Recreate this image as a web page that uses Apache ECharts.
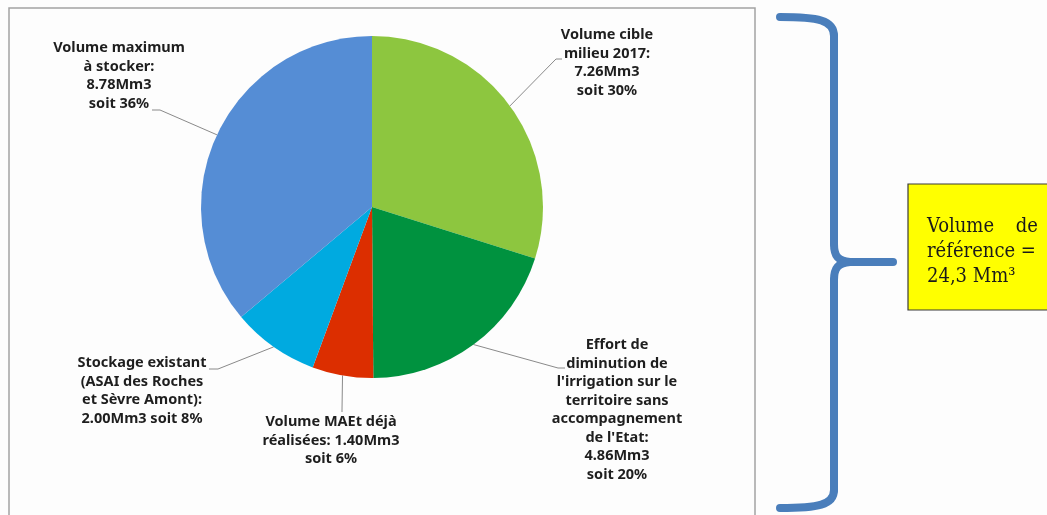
<!DOCTYPE html>
<html>
<head>
<meta charset="utf-8">
<script src="https://cdn.jsdelivr.net/npm/echarts@6/dist/echarts.min.js"></script>
<style>
  html, body { margin: 0; padding: 0; background: #fdfdfd; }
  #chart { width: 1047px; height: 515px; }
</style>
</head>
<body>
<div id="chart"></div>
<script>
// Volumes (Mm3), clockwise from 12 o'clock
const sliceNames = [
  'Volume cible milieu 2017',
  "Effort de diminution de l'irrigation",
  'Volume MAEt déjà réalisées',
  'Stockage existant',
  'Volume maximum à stocker'
];
const volumes = [7.26, 4.86, 1.40, 2.00, 8.78];
const sliceColors = ['#8dc63f', '#00923f', '#dc2e00', '#00aae0', '#558dd5'];

// Label texts; {v} = volume, {p} = share of the total
const labelTemplates = [
  'Volume cible\nmilieu 2017:\n{v}Mm3\nsoit {p}%',
  "Effort de\ndiminution de\nl'irrigation sur le\nterritoire sans\naccompagnement\nde l'Etat:\n{v}Mm3\nsoit {p}%",
  'Volume MAEt déjà\nréalisées: {v}Mm3\nsoit {p}%',
  'Stockage existant\n(ASAI des Roches\net Sèvre Amont):\n{v}Mm3 soit {p}%',
  'Volume maximum\nà stocker:\n{v}Mm3\nsoit {p}%'
];

// Reference box text
const refLines = ['Volume', 'de', 'référence =', '24,3 Mm³'];

// Label block placement (top centre) and where each leader line meets its text
const labelPlacement = [
  { x: 607, y: 26,  elbow: [556, 59],  end: [562, 59] },
  { x: 617, y: 336, elbow: [558, 368], end: [565, 368] },
  { x: 331, y: 413, elbow: [342, 410], end: [342, 412] },
  { x: 142, y: 354, elbow: [218, 369], end: [209, 369] },
  { x: 119, y: 39,  elbow: [160, 110], end: [152, 110] }
];

const total = volumes.reduce((a, b) => a + b, 0);

const chart = echarts.init(document.getElementById('chart'), null, { renderer: 'canvas' });

const braceStyle = { fill: null, stroke: '#4a7ebb', lineWidth: 8, lineCap: 'round', lineJoin: 'round' };
const braceCurve = (x1, y1, c1x, c1y, c2x, c2y, x2, y2) => ({
  type: 'bezierCurve', z: 5,
  shape: { x1, y1, cpx1: c1x, cpy1: c1y, cpx2: c2x, cpy2: c2y, x2, y2 },
  style: braceStyle
});
const braceLine = (x1, y1, x2, y2) => ({
  type: 'line', z: 5, shape: { x1, y1, x2, y2 }, style: braceStyle
});
const refText = (text, x, y, align) => ({
  type: 'text', z: 6, x, y,
  style: {
    text, fill: '#1a1a1a', verticalAlign: 'middle', align,
    font: '20px "DejaVu Serif Condensed", "Liberation Serif", serif'
  }
});

const option = {
  backgroundColor: '#fdfdfd',
  animation: false,
  graphic: [
    // frame around the pie
    {
      type: 'rect', z: 0,
      shape: { x: 9, y: 8, width: 746, height: 530 },
      style: { fill: '#fdfdfd', stroke: '#a3a3a3', lineWidth: 1.5 }
    },
    // curly brace
    braceCurve(780, 17, 818, 17, 834, 20, 834, 36),
    braceLine(834, 36, 834, 244),
    braceCurve(834, 244, 834, 256, 838, 261, 850, 262),
    braceLine(850, 262, 893, 262),
    braceCurve(850, 262, 838, 263, 834, 268, 834, 280),
    braceLine(834, 280, 834, 490),
    braceCurve(834, 490, 834, 505, 818, 508, 780, 508),
    // reference volume box
    {
      type: 'rect', z: 5,
      shape: { x: 908, y: 184, width: 160, height: 126 },
      style: { fill: '#ffff00', stroke: '#3a3a3a', lineWidth: 1.2 }
    },
    refText(refLines[0], 927, 227, 'left'),
    refText(refLines[1], 1038, 227, 'right'),
    refText(refLines[2], 927, 252, 'left'),
    refText(refLines[3], 927, 277, 'left')
  ],
  series: [
    {
      type: 'pie',
      center: [372, 207],
      radius: 171,
      startAngle: 90,
      clockwise: true,
      avoidLabelOverlap: false,
      z: 3,
      data: volumes.map((v, i) => ({
        name: sliceNames[i],
        value: v,
        itemStyle: { color: sliceColors[i] }
      })),
      label: {
        show: true,
        position: 'outside',
        fontFamily: 'Noto Sans',
        fontWeight: 'bold',
        fontSize: 14.5,
        lineHeight: 18.5,
        color: '#1e1e1e',
        align: 'center',
        formatter: (p) => labelTemplates[p.dataIndex]
          .replace('{v}', p.value.toFixed(2))
          .replace('{p}', Math.round(p.value / total * 100))
      },
      labelLine: {
        show: true,
        length: 20,
        length2: 8,
        lineStyle: { color: '#8a8a8a', width: 1 }
      },
      labelLayout: (params) => {
        const pl = labelPlacement[params.dataIndex];
        const start = params.labelLinePoints ? params.labelLinePoints[0] : pl.elbow;
        return {
          x: pl.x,
          y: pl.y,
          align: 'center',
          verticalAlign: 'top',
          labelLinePoints: [start, pl.elbow, pl.end]
        };
      }
    }
  ]
};

chart.setOption(option);
</script>
</body>
</html>
